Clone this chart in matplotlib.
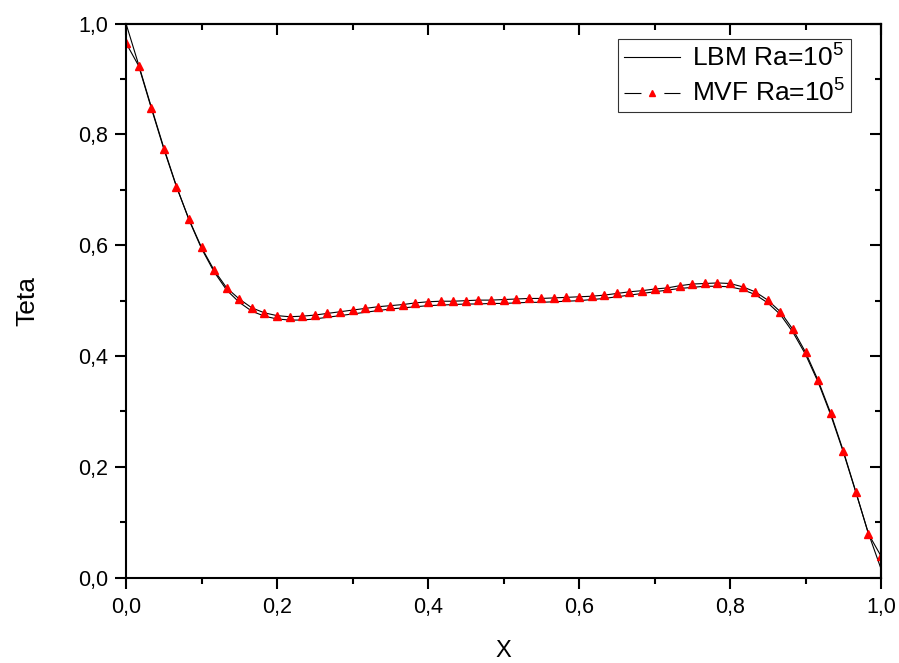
import numpy as np
import matplotlib
matplotlib.use('Agg')
import matplotlib.pyplot as plt
from matplotlib.lines import Line2D
from matplotlib.ticker import MultipleLocator, FuncFormatter

plt.rcParams['font.family'] = ['Liberation Sans', 'DejaVu Sans']
plt.rcParams['mathtext.fontset'] = 'custom'
plt.rcParams['mathtext.rm'] = 'Liberation Sans'
plt.rcParams['mathtext.it'] = 'Liberation Sans:italic'
plt.rcParams['lines.scale_dashes'] = False

# data (61 points, step 1/60)
x = np.linspace(0, 1, 61)

mvf = [0.965, 0.924, 0.848, 0.774, 0.706, 0.647, 0.596, 0.555, 0.523, 0.503,
       0.487, 0.478, 0.473, 0.471, 0.472, 0.474, 0.477, 0.480, 0.483, 0.486,
       0.489, 0.491, 0.493, 0.496, 0.498, 0.499, 0.499, 0.500, 0.501, 0.501,
       0.502, 0.503, 0.504, 0.504, 0.505, 0.506, 0.507, 0.508, 0.510, 0.513,
       0.516, 0.518, 0.521, 0.523, 0.527, 0.530, 0.531, 0.532, 0.531, 0.525,
       0.516, 0.501, 0.480, 0.448, 0.407, 0.356, 0.297, 0.229, 0.155, 0.079,
       0.039]

lbm = [1.000, 0.926, 0.850, 0.776, 0.707, 0.646, 0.594, 0.552, 0.519, 0.497,
       0.481, 0.472, 0.467, 0.465, 0.465, 0.467, 0.470, 0.473, 0.476, 0.479,
       0.482, 0.485, 0.487, 0.489, 0.491, 0.492, 0.493, 0.494, 0.494, 0.495,
       0.495, 0.496, 0.497, 0.497, 0.498, 0.499, 0.500, 0.502, 0.504, 0.507,
       0.510, 0.513, 0.516, 0.519, 0.522, 0.524, 0.526, 0.526, 0.525, 0.520,
       0.511, 0.496, 0.475, 0.443, 0.403, 0.353, 0.294, 0.227, 0.154, 0.080,
       0.016]

labels = ['LBM Ra=10$^5$', 'MVF Ra=10$^5$']

fig = plt.figure(figsize=(8.99, 6.63), dpi=100)
ax = fig.add_axes([0.1402, 0.1287, 0.8398, 0.8356])

l1, = ax.plot(x, lbm, color='black', lw=0.8)
ax.plot(x, mvf, color='black', lw=0.8, marker='^', ms=5.5, mfc='red', mec='red')

ax.set_xlim(0, 1)
ax.set_ylim(0, 1)

comma = FuncFormatter(lambda v, p: ('%.1f' % v).replace('.', ','))
for a in (ax.xaxis, ax.yaxis):
    a.set_major_locator(MultipleLocator(0.2))
    a.set_minor_locator(MultipleLocator(0.1))
    a.set_major_formatter(comma)

ax.tick_params(which='major', direction='out', length=8, width=1.5, labelsize=15.5)
ax.tick_params(which='minor', direction='out', length=4, width=1.5)
ax.tick_params(axis='x', which='major', pad=6)
ax.tick_params(axis='y', which='major', pad=5)

for s in ax.spines.values():
    s.set_linewidth(1.5)

top = ax.secondary_xaxis('top')
top.xaxis.set_major_locator(MultipleLocator(0.2))
top.xaxis.set_minor_locator(MultipleLocator(0.1))
top.tick_params(which='major', direction='in', length=8, width=1.5, labeltop=False)
top.tick_params(which='minor', direction='in', length=4, width=1.5)
top.spines['top'].set_linewidth(1.5)

right = ax.secondary_yaxis('right')
right.yaxis.set_major_locator(MultipleLocator(0.2))
right.yaxis.set_minor_locator(MultipleLocator(0.1))
right.tick_params(which='major', direction='in', length=8, width=1.5, labelright=False)
right.tick_params(which='minor', direction='in', length=4, width=1.5)
right.spines['right'].set_linewidth(1.5)

ax.set_xlabel('X', fontsize=17)
ax.xaxis.set_label_coords(0.5, -0.112)
ax.set_ylabel('Teta', fontsize=19, labelpad=28)

# legend entry for MVF: broken line around the marker
broken = Line2D([], [], color='black', lw=0.8, dashes=(12.2, 16.5))
tri = Line2D([], [], ls='none', marker='^', ms=4, mfc='red', mec='red')
leg = ax.legend([l1, (broken, tri)], labels,
                loc='upper right', bbox_to_anchor=(0.96, 0.972), borderaxespad=0,
                fontsize=19, frameon=True, fancybox=False, edgecolor='black',
                handlelength=2.15, handletextpad=0.45, borderpad=0.2,
                labelspacing=0.3)
leg.get_frame().set_linewidth(0.8)

fig.savefig('out.png', dpi=100)
